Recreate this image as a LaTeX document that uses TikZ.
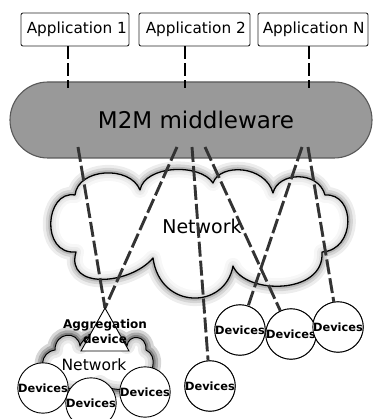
\documentclass[tikz,border=0pt]{standalone}
\usepackage{fontspec}
\setmainfont{DejaVu Sans}
\usetikzlibrary{calc}
\begin{document}
\begin{tikzpicture}[x=1pt,y=-1pt,
  appbox/.style={draw=black!85, line width=0.9pt, fill=white, rounded corners=2pt, minimum height=33pt, inner sep=0pt},
  apptext/.style={font=\fontsize{15.3}{18}\selectfont, inner sep=0pt, anchor=west},
  mwshape/.style={draw=black!65, line width=1.1pt, fill=black!40, rounded corners=38pt, minimum width=362pt, minimum height=76pt, inner sep=0pt, font=\fontsize{23}{27}\selectfont},
  appline/.style={draw=black, line width=2.6pt, dash pattern=on 13pt off 4pt},
  link/.style={draw=black!80, line width=2.9pt, dash pattern=on 15pt off 4pt},
  dev/.style={circle, draw=black, line width=0.9pt, fill=white, minimum size=42pt, inner sep=0pt, font=\bfseries\fontsize{11.4}{14}\selectfont},
  netlabel/.style={inner sep=0pt},
  glowA/.style={draw=black, line width=16pt, opacity=0.07, line join=round},
  glowB/.style={draw=black, line width=10pt, opacity=0.1, line join=round},
  glowC/.style={draw=black, line width=5pt, opacity=0.14, line join=round},
  cloudline/.style={draw=black, line width=1.3pt, line join=round},
  tri/.style={draw=black, line width=0.9pt, fill=white, line join=miter}
]
\useasboundingbox (0,0) rectangle (372,419);

\def\bigcloud{(75,195) .. controls (78,168) and (130,165) .. (140,190)
  .. controls (145,165) and (200,163) .. (213,183)
  .. controls (220,163) and (265,165) .. (273,193)
  .. controls (278,172) and (318,170) .. (325,195)
  .. controls (356,193) and (356,250) .. (322,252)
  .. controls (325,295) and (245,295) .. (233,266)
  .. controls (225,310) and (160,310) .. (153,258)
  .. controls (130,285) and (65,290) .. (76,252)
  .. controls (40,255) and (45,190) .. (75,195) -- cycle}

\def\smallcloud{(55,350) .. controls (55,332) and (78,330) .. (80,346)
  .. controls (85,330) and (122,330) .. (127,346)
  .. controls (128,334) and (147,334) .. (146,350)
  .. controls (158,355) and (155,378) .. (138,380)
  .. controls (135,392) and (110,392) .. (100,383)
  .. controls (90,392) and (60,392) .. (52,378)
  .. controls (38,372) and (40,352) .. (55,350) -- cycle}

% big network cloud
\path[glowA] \bigcloud;
\path[glowB] \bigcloud;
\path[glowC] \bigcloud;
\fill[white, opacity=0.55] \bigcloud;
\path[cloudline] \bigcloud;
\node[netlabel, font=\fontsize{19}{22}\selectfont] (net) at (202,226) {Network};

% small network cloud
\path[glowA, opacity=0.16] \smallcloud;
\path[glowB, opacity=0.2] \smallcloud;
\path[glowC, opacity=0.25] \smallcloud;
\fill[white, opacity=0.55] \smallcloud;
\path[cloudline, line width=1pt] \smallcloud;
\node[netlabel, font=\fontsize{15.5}{18}\selectfont] (net2) at (94,365) {Network};

% applications
\node[appbox, minimum width=108pt] (app1) at (75,29.5) {};
\node[appbox, minimum width=111pt] (app2) at (194.5,29.5) {};
\node[appbox, minimum width=110pt] (appn) at (313,29.5) {};
\node[apptext] (t1) at ([xshift=6pt]app1.west) {Application 1};
\node[apptext] (t2) at ([xshift=7pt]app2.west) {Application 2};
\node[apptext] (tn) at ([xshift=5pt]appn.west) {Application N};

% middleware
\node[mwshape] (mw) at (191,120) {\hspace*{10pt}M2M middleware};

\coordinate (a1) at (68,88);
\coordinate (a2) at (185,88);
\coordinate (an) at (309,88);
\draw[appline] (app1.south -| a1) -- (a1);
\draw[appline] (app2.south -| a2) -- (a2);
\draw[appline] (appn.south -| an) -- (an);

% devices
\node[dev] (dA) at (240,330) {Devices};
\node[dev] (dB) at (291,334) {Devices};
\node[dev] (dC) at (338,327) {Devices};
\node[dev] (dD) at (210,386) {Devices};

% middleware link points
\coordinate (m1) at (78,147);
\coordinate (m2) at (177,147);
\coordinate (m3) at (192,147);
\coordinate (m4) at (205,147);
\coordinate (m5) at (302,147);
\coordinate (m6) at (308,147);
\coordinate (agg) at (105,308);

\draw[link] (m1) -- (agg);
\draw[link] (m2) -- (agg);
\draw[link] (m3) -- (dD);
\draw[link] (m4) -- (dB);
\draw[link] (m5) -- (dA);
\draw[link] (m6) -- (dC);

% redraw device circles on top of links
\node[dev] at (dA) {Devices};
\node[dev] at (dB) {Devices};
\node[dev] at (dC) {Devices};
\node[dev] at (dD) {Devices};

% aggregation device
\draw[tri] (agg) -- (129,351) -- (81,351) -- cycle;
\node[align=center, inner sep=0pt, font=\bfseries\fontsize{12}{15}\selectfont] (aggtext) at (105,332) {Aggregation\\device};

% local devices
\node[dev] (dE) at (43,388) {Devices};
\node[dev] (dF) at (91,403) {Devices};
\node[dev] (dG) at (145,392) {Devices};
\end{tikzpicture}
\end{document}
